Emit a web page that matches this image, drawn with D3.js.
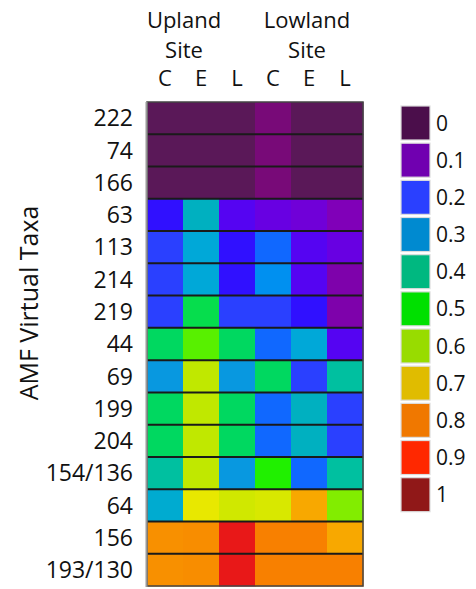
<!DOCTYPE html>
<html>
<head>
<meta charset="utf-8">
<script src="https://cdn.jsdelivr.net/npm/d3@7"></script>
<style>
  html, body { margin: 0; padding: 0; background: #fff; }
  svg { display: block; }
  text { font-family: "Open Sans", sans-serif; fill: #111; }
</style>
</head>
<body>
<svg id="chart" width="476" height="589"></svg>
<script>
// ---- data ----
const taxa = ["222", "74", "166", "63", "113", "214", "219", "44", "69", "199", "204", "154/136", "64", "156", "193/130"];
const columns = ["UC", "UE", "UL", "LC", "LE", "LL"];
const columnLabels = ["C", "E", "L", "C", "E", "L"];
const sites = ["Upland", "Lowland"];
// relative abundance values per taxon, columns: Upland C,E,L, Lowland C,E,L
const values = [
  [0.00, 0.00, 0.00, 0.05, 0.00, 0.00],
  [0.00, 0.00, 0.00, 0.05, 0.00, 0.00],
  [0.00, 0.00, 0.00, 0.05, 0.00, 0.00],
  [0.18, 0.36, 0.15, 0.13, 0.12, 0.10],
  [0.20, 0.33, 0.18, 0.23, 0.15, 0.13],
  [0.20, 0.33, 0.18, 0.27, 0.15, 0.09],
  [0.20, 0.46, 0.20, 0.20, 0.18, 0.09],
  [0.45, 0.55, 0.45, 0.23, 0.33, 0.15],
  [0.30, 0.60, 0.30, 0.45, 0.20, 0.40],
  [0.45, 0.60, 0.45, 0.23, 0.36, 0.20],
  [0.45, 0.60, 0.45, 0.23, 0.36, 0.20],
  [0.40, 0.60, 0.30, 0.50, 0.23, 0.40],
  [0.34, 0.65, 0.62, 0.63, 0.70, 0.57],
  [0.75, 0.76, 0.90, 0.80, 0.80, 0.70],
  [0.75, 0.76, 0.90, 0.80, 0.80, 0.80]
];
const legendTicks = ["0", "0.1", "0.2", "0.3", "0.4", "0.5", "0.6", "0.7", "0.8", "0.9", "1"];
const yTitle = "AMF Virtual Taxa";

// ---- styles ----
const legendPalette = ["#4b0e4b", "#7000b0", "#2a40ff", "#008ad0", "#00b880", "#00e000",
                       "#98dc00", "#e0bc00", "#f07800", "#ff2800", "#901818"];
const cellStops = [0, 0.05, 0.10, 0.12, 0.14, 0.16, 0.18, 0.20, 0.23, 0.27, 0.30, 0.33, 0.36, 0.40,
                   0.45, 0.50, 0.55, 0.60, 0.65, 0.70, 0.75, 0.80, 0.90, 1.00];
const cellColors = ["#5a1858", "#780a78", "#8000b8", "#7000d8", "#6000ec", "#4a08f8", "#3010ff",
                    "#2a40ff", "#1068ff", "#0090f0", "#0898e0", "#00a8d8", "#00b0c0", "#00c0a0",
                    "#00d860", "#20f000", "#58f000", "#c0e800", "#e8e800", "#f8a800", "#f89000",
                    "#f88000", "#e81818", "#901818"];

const svg = d3.select("#chart");
svg.append("rect").attr("width", 476).attr("height", 589).attr("fill", "#fff");

const x = d3.scaleBand().domain(columns).range([147, 363]).padding(0);
const y = d3.scaleBand().domain(taxa).range([102, 586]).padding(0);
const color = d3.scaleLinear().domain(cellStops).range(cellColors).clamp(true);

// cells
const cells = [];
taxa.forEach((t, i) => columns.forEach((c, j) => cells.push({ t, c, v: values[i][j] })));
svg.append("g").selectAll("rect").data(cells).join("rect")
  .attr("x", d => x(d.c)).attr("y", d => y(d.t))
  .attr("width", x.bandwidth() + 0.5).attr("height", y.bandwidth() + 0.5)
  .attr("fill", d => color(d.v));

// row separators
svg.append("g").selectAll("line").data(taxa.slice(1)).join("line")
  .attr("x1", 147).attr("x2", 363)
  .attr("y1", d => y(d)).attr("y2", d => y(d))
  .attr("stroke", "#1a1a1a").attr("stroke-width", 2);

// outer border
svg.append("rect").attr("x", 147).attr("y", 102).attr("width", 216).attr("height", 484)
  .attr("fill", "none").attr("stroke", "#444").attr("stroke-width", 1.5);
svg.append("line").attr("x1", 146.5).attr("x2", 146.5).attr("y1", 102).attr("y2", 587)
  .attr("stroke", "#999").attr("stroke-width", 2);

// row labels
svg.append("g").selectAll("text").data(taxa).join("text")
  .attr("x", 133).attr("y", d => y(d) + y.bandwidth() / 2)
  .attr("dy", "0.36em").attr("text-anchor", "end")
  .style("font-size", "23px").text(d => d);

// y title
svg.append("text")
  .attr("transform", "translate(38,303) rotate(-90)")
  .attr("text-anchor", "middle")
  .style("font-size", "25px").text(yTitle);

// column labels
svg.append("g").selectAll("text").data(columns).join("text")
  .attr("x", (d, i) => x(d) + x.bandwidth() / 2)
  .attr("y", 86).attr("text-anchor", "middle")
  .style("font-size", "22px").text((d, i) => columnLabels[i]);

// site headers
const siteCenters = [184, 307];
sites.forEach((s, i) => {
  svg.append("text").attr("x", siteCenters[i]).attr("y", 28).attr("text-anchor", "middle")
    .style("font-size", "22px").text(s);
  svg.append("text").attr("x", siteCenters[i]).attr("y", 58).attr("text-anchor", "middle")
    .style("font-size", "22px").text("Site");
});

// legend
const ly = d3.scaleBand().domain(legendTicks).range([106, 106 + 36.9 * 11]).paddingInner(0.08).paddingOuter(0);
const lg = svg.append("g");
lg.selectAll("rect").data(legendTicks).join("rect")
  .attr("x", 401).attr("y", d => ly(d))
  .attr("width", 29).attr("height", 34)
  .attr("fill", (d, i) => legendPalette[i])
  .attr("stroke", "#ddd").attr("stroke-width", 1.2);
lg.selectAll("text").data(legendTicks).join("text")
  .attr("x", 436).attr("y", d => ly(d) + 17)
  .attr("dy", "0.36em")
  .style("font-size", "21px").text(d => d);
</script>
</body>
</html>
